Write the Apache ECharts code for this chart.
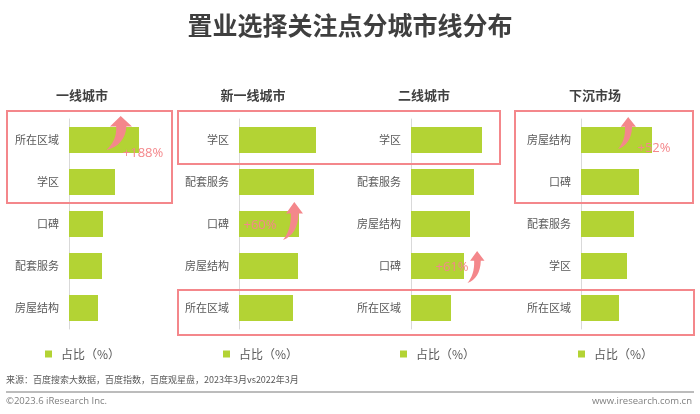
<!DOCTYPE html>
<html>
<head>
<meta charset="utf-8">
<script src="https://cdn.jsdelivr.net/npm/echarts@6/dist/echarts.min.js"></script>
<style>html,body{margin:0;padding:0;background:#fff}#c{width:700px;height:414px}</style>
</head>
<body>
<div id="c"></div>
<script>
// ---- data ----
const panelTitles = ['一线城市', '新一线城市', '二线城市', '下沉市场'];
const cats1 = ['所在区域', '学区', '口碑', '配套服务', '房屋结构'];
const vals1 = [70, 46, 34, 33, 29];
const cats2 = ['学区', '配套服务', '口碑', '房屋结构', '所在区域'];
const vals2 = [77, 75, 60, 59, 54];
const cats3 = ['学区', '配套服务', '房屋结构', '口碑', '所在区域'];
const vals3 = [71, 63, 59, 53, 40];
const cats4 = ['房屋结构', '口碑', '配套服务', '学区', '所在区域'];
const vals4 = [71, 58, 53, 46, 38];
const seriesName = '占比（%）';
// growth annotations: [panel, category, text]
const growth = [[0, '所在区域', '+188%'], [1, '口碑', '+60%'], [2, '口碑', '+61%'], [3, '房屋结构', '+52%']];

const cats = [cats1, cats2, cats3, cats4];
const vals = [vals1, vals2, vals3, vals4];

// ---- layout ----
const axisX = [69, 239, 411, 581];
const titleX = [82, 253, 424, 595];
const legendX = [40, 218, 395, 573];
const arrowOff = [[-20, -7], [-6, -3], [12, 1], [-25, -7]];
const arrowSize = [[26, 34], [20, 38], [17, 32], [18, 32]];
const textOff = [[4, 13], [-39, 1], [-12, 1], [2, 8]];
const arrowPath = 'path://M14 0 L24 11 L19 11 C18.5 24 12 33 1 36 C7 30 10.5 22 10 11 L4.5 11 Z';
const pink = '#f4878b';
const green = '#b3d334';
const ff = "'Noto Sans CJK SC', 'Noto Sans', sans-serif";

const chart = echarts.init(document.getElementById('c'), null, {renderer: 'canvas'});

const grids = [], xAxes = [], yAxes = [], series = [], legends = [], titles = [];
titles.push({text: '置业选择关注点分城市线分布', left: 'center', top: 8,
  textStyle: {fontSize: 25, fontWeight: 'bold', color: '#3f3f3f', fontFamily: ff}});
for (let i = 0; i < 4; i++) {
  grids.push({left: axisX[i], top: 119, width: 100, height: 210});
  xAxes.push({type: 'value', gridIndex: i, min: 0, max: 100, show: false});
  yAxes.push({type: 'category', gridIndex: i, data: cats[i], inverse: true,
    axisLine: {lineStyle: {color: '#d9d9d9', width: 1}}, axisTick: {show: false},
    axisLabel: {fontSize: 11, color: '#595959', margin: 10, fontFamily: ff}});
  const mp = [];
  growth.filter(g => g[0] === i).forEach(g => {
    const idx = cats[i].indexOf(g[1]);
    const coord = [vals[i][idx], g[1]];
    mp.push({coord, symbol: arrowPath, symbolSize: arrowSize[i], symbolOffset: arrowOff[i],
      symbolKeepAspect: false, itemStyle: {color: pink}, label: {show: false}});
    mp.push({coord, symbol: 'circle', symbolSize: 1, itemStyle: {color: 'rgba(0,0,0,0)'},
      label: {show: true, position: 'inside', offset: textOff[i], formatter: g[2],
        fontSize: 13, color: pink, fontFamily: "'Open Sans', sans-serif"}});
  });
  series.push({type: 'bar', name: seriesName, xAxisIndex: i, yAxisIndex: i, data: vals[i],
    barCategoryGap: '38%', itemStyle: {color: green}, silent: true,
    markPoint: {silent: true, animation: false, data: mp}});
  legends.push({left: legendX[i], top: 343, data: [seriesName], icon: 'rect',
    itemWidth: 7, itemHeight: 7, selectedMode: false,
    textStyle: {fontSize: 12, color: '#595959', fontFamily: ff, padding: [0, 0, 0, 4]}});
}

const boxes = [[7, 111, 165, 92], [178, 111, 322, 53], [515, 111, 178, 92], [178, 290, 516, 45]];
const graphic = [];
boxes.forEach(b => graphic.push({type: 'rect', shape: {x: b[0], y: b[1], width: b[2], height: b[3]},
  style: {fill: null, stroke: pink, lineWidth: 2}, z: 10, silent: true}));
panelTitles.forEach((t, i) => graphic.push({type: 'text', x: titleX[i], y: 95,
  style: {text: t, fontSize: 13, fontWeight: 'bold', fill: '#404040', align: 'center', verticalAlign: 'middle', fontFamily: ff}}));
graphic.push({type: 'text', x: 6, y: 380, style: {text: '来源：百度搜索大数据，百度指数，百度观星盘，2023年3月vs2022年3月',
  fontSize: 9, fill: '#595959', verticalAlign: 'middle', fontFamily: ff}});
graphic.push({type: 'line', shape: {x1: 6, y1: 392, x2: 694, y2: 392}, style: {stroke: '#a6a6a6', lineWidth: 1.5}});
graphic.push({type: 'text', x: 6, y: 401, style: {text: '©2023.6 iResearch Inc.', fontSize: 9.5, fill: '#7f7f7f',
  verticalAlign: 'middle', fontFamily: "'Open Sans', sans-serif"}});
graphic.push({type: 'text', x: 692, y: 401, style: {text: 'www.iresearch.com.cn', fontSize: 9.5, fill: '#7f7f7f',
  align: 'right', verticalAlign: 'middle', fontFamily: "'Open Sans', sans-serif"}});

chart.setOption({
  animation: false,
  textStyle: {fontFamily: ff},
  title: titles, grid: grids, xAxis: xAxes, yAxis: yAxes, series, legend: legends, graphic
});
</script>
</body>
</html>
